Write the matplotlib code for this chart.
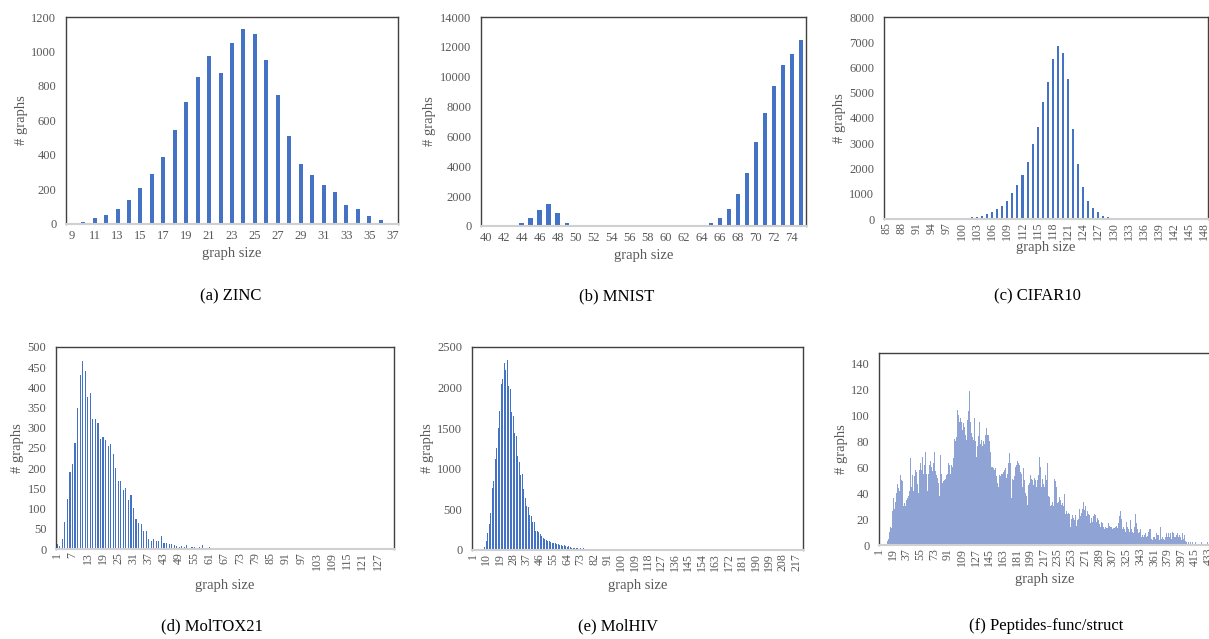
"""Graph-size histograms for six benchmark datasets (2x3 panel figure)."""
import matplotlib
matplotlib.use("Agg")
import matplotlib.pyplot as plt
import numpy as np

W, H = 1209, 639
BLUE = "#4472C4"
GREY = "#595959"

plt.rcParams.update({
    "font.family": ["Liberation Serif", "DejaVu Serif"],
    "font.size": 9,
})

# ---- data -------------------------------------------------------------------
zinc_sizes = list(range(9, 38))
zinc_counts = [1, 12, 33, 52, 85, 137, 209, 290, 391, 546,
               708, 852, 975, 875, 1047, 1130, 1103, 952, 749, 509,
               348, 285, 225, 184, 108, 85, 46, 21, 2]

mnist_sizes = list(range(40, 76))
mnist_counts = [10, 10, 5, 60, 180, 540, 1080, 1460, 875, 225,
                20, 5, 0, 0, 0, 0, 0, 0, 0, 0,
                0, 5, 10, 20, 80, 225, 540, 1170, 2150, 3570,
                5610, 7580, 9380, 10770, 11530, 12450]

cifar_sizes = list(range(85, 151))
cifar_counts = [0, 0, 0, 0, 0, 0, 0, 0, 0, 0, 0, 0, 0, 0, 5,
                40, 40, 60, 70, 130, 210, 260, 380, 500, 700,
                1020, 1340, 1750, 2260, 2980, 3650, 4630, 5430, 6330, 6860,
                6570, 5550, 3580, 2160, 1270, 700, 440, 260, 120, 60,
                40, 30,
                10, 5, 0, 0, 0, 0, 0, 0, 0, 0, 0, 0, 0, 0, 0, 0, 0, 0, 0]

tox_counts = [12, 8, 24, 66, 125, 190, 211, 262, 348, 431,
              465, 440, 376, 385, 322, 323, 312, 272, 278, 270,
              256, 260, 235, 200, 168, 168, 145, 150, 121, 133,
              101, 74, 64, 63, 45, 45, 24, 20, 24, 20,
              19, 31, 15, 15, 13, 13, 10, 8, 5, 8,
              4, 10, 3, 6, 6, 1, 6, 10, 3, 2,
              5, 3, 3, 1, 3, 1, 2, 1, 1, 1,
              0, 1, 3, 0, 0, 0, 0, 0, 0, 1,
              0, 0, 1, 2, 1, 3, 1, 0, 1, 2,
              1] + [0] * 42
tox_sizes = list(range(1, len(tox_counts) + 1))

hiv_counts = [0, 0, 0, 0, 0, 0, 0, 0, 33, 111,
              210, 326, 458, 763, 850, 1126, 1254, 1506, 1712, 2050,
              2108, 2298, 2219, 2339, 2017, 1988, 1695, 1646, 1435, 1398,
              1155, 1089, 920, 930, 750, 640, 545, 530, 430, 420,
              340, 340, 240, 230, 220, 200, 170, 150, 140, 120,
              115, 110, 95, 90, 85, 90, 70, 70, 65, 60,
              55, 60, 45, 40, 45, 35, 30, 28, 25, 22,
              22, 18, 20, 16, 20, 15, 12, 12, 10, 10,
              8, 6, 5, 4, 3, 3, 2, 2, 2, 1,
              1, 1, 1, 1] + [0] * 127
hiv_sizes = list(range(1, len(hiv_counts) + 1))

pep_counts = [
    0, 0, 0, 0, 0, 0, 0, 0, 0, 0,
    1, 3, 5, 10, 12, 14, 13, 26, 30, 36,
    28, 33, 40, 35, 47, 44, 42, 38, 54, 50,
    49, 42, 30, 32, 30, 33, 35, 36, 38, 42,
    42, 67, 45, 54, 48, 42, 53, 58, 45, 56,
    47, 40, 53, 58, 63, 58, 55, 68, 55, 62,
    72, 60, 55, 42, 55, 65, 62, 65, 60, 62,
    57, 63, 72, 62, 57, 54, 52, 56, 48, 38,
    69, 55, 51, 48, 49, 50, 45, 51, 54, 55,
    58, 63, 62, 55, 65, 62, 60, 67, 82, 78,
    80, 83, 104, 134, 100, 95, 98, 92, 95, 89,
    94, 88, 91, 85, 81, 91, 96, 103, 119, 95,
    92, 86, 83, 81, 88, 98, 80, 68, 72, 76,
    84, 95, 73, 78, 81, 76, 73, 80, 78, 85,
    90, 87, 85, 85, 80, 69, 72, 60, 60, 37,
    59, 58, 59, 55, 53, 48, 45, 54, 58, 53,
    55, 55, 89, 56, 58, 59, 47, 52, 55, 63,
    65, 71, 63, 36, 58, 51, 50, 53, 60, 64,
    62, 65, 63, 60, 62, 56, 55, 53, 45, 59,
    50, 46, 40, 38, 31, 37, 46, 48, 54, 51,
    53, 50, 46, 52, 56, 50, 45, 50, 53, 54,
    68, 60, 55, 45, 51, 47, 45, 42, 54, 50,
    63, 40, 38, 37, 30, 40, 31, 33, 30, 40,
    51, 49, 45, 42, 32, 33, 37, 35, 32, 31,
    32, 30, 31, 39, 24, 26, 26, 24, 25, 24,
    22, 14, 20, 23, 22, 21, 19, 23, 15, 21,
    19, 20, 28, 27, 22, 25, 28, 41, 33, 27,
    30, 26, 22, 26, 24, 24, 23, 17, 21, 18,
    17, 22, 24, 23, 20, 18, 21, 19, 18, 16,
    14, 18, 19, 17, 14, 12, 14, 15, 13, 13,
    17, 23, 15, 14, 14, 17, 12, 13, 13, 12,
    14, 15, 13, 15, 17, 22, 26, 20, 15, 12,
    14, 12, 12, 10, 18, 14, 12, 12, 10, 19,
    15, 12, 10, 9, 14, 14, 24, 17, 12, 9,
    9, 10, 12, 10, 6, 8, 6, 8, 8, 9,
    6, 8, 7, 10, 12, 12, 10, 5, 4, 6,
    8, 6, 5, 9, 10, 8, 8, 4, 6, 14,
    5, 6, 3, 5, 4, 6, 9, 8, 6, 9,
    6, 8, 9, 5, 10, 8, 9, 6, 6, 8,
    8, 9, 6, 6, 8, 6, 4, 9, 8, 5,
    8, 3, 2, 2, 1, 2, 2, 1, 2, 1,
    1, 2, 1, 1, 2, 1, 1, 0, 1, 2,
    1, 1, 2, 1, 0, 1, 1, 2, 1, 0, 2, 1, 1,
]
pep_sizes = list(range(1, len(pep_counts) + 1))


# ---- helpers ------------------------------------------------------------------
def panel(fig, box, sizes, counts, width, xlim, ylim, yticks, xtick_step,
          rotate, ylab_x, xlab_y, color=BLUE, last_tick=None):
    left, top, right, bottom = box
    ax = fig.add_axes([left / W, 1 - bottom / H, (right - left) / W, (bottom - top) / H])
    ax.bar(sizes, counts, width=width, color=color, linewidth=0, zorder=2)
    ax.set_xlim(*xlim)
    ax.set_ylim(*ylim)
    ax.set_yticks(yticks)
    ticks = [t for t in sizes[::xtick_step] if last_tick is None or t <= last_tick]
    ax.set_xticks(ticks)
    ax.set_xticklabels([str(t) for t in ticks], rotation=90 if rotate else 0)
    ax.tick_params(length=0, colors=GREY, labelsize=9)
    ax.tick_params(axis="y", pad=7)
    if rotate:
        ax.tick_params(axis="x", pad=2, labelsize=8.6)
    else:
        ax.tick_params(axis="x", pad=4)
    for side in ("left", "top", "right"):
        ax.spines[side].set_color("#404040")
        ax.spines[side].set_linewidth(1.0)
    ax.spines["bottom"].set_color("#D0D0D0")
    ax.spines["bottom"].set_linewidth(1.5)
    ax.set_ylabel("# graphs", fontsize=10.5, color=GREY)
    ax.set_xlabel("graph size", fontsize=10.5, color=GREY)
    ax.yaxis.set_label_coords((ylab_x - left) / (right - left), 0.5)
    ax.yaxis.label.set_va("center")
    ax.xaxis.set_label_coords(0.5, (bottom - xlab_y) / (bottom - top))
    ax.xaxis.label.set_va("center")
    return ax


def caption(fig, x, y, text):
    fig.text(x / W, 1 - y / H, text, ha="center", va="center", fontsize=12, color="black")


fig = plt.figure(figsize=(W / 100, H / 100), dpi=100)

panel(fig, (66, 17, 398, 224), zinc_sizes, zinc_counts, 0.35, (8.5, 37.5), (0, 1200),
      range(0, 1201, 200), 2, False, 21, 254)
panel(fig, (481, 17, 806, 226), mnist_sizes, mnist_counts, 0.45, (39.5, 75.6), (0, 14000),
      range(0, 14001, 2000), 2, False, 430, 255)
panel(fig, (884, 17, 1208, 219), cifar_sizes, cifar_counts, 0.4, (84.6, 148.7), (0, 8000),
      range(0, 8001, 1000), 3, True, 840, 247)
panel(fig, (56, 347, 394, 549), tox_sizes, tox_counts, 0.45, (0.5, len(tox_sizes) + 0.5),
      (0, 500), range(0, 501, 50), 6, True, 17, 585, last_tick=127)
panel(fig, (472, 347, 803, 550), hiv_sizes, hiv_counts, 0.6, (0.5, len(hiv_sizes) + 0.5),
      (0, 2500), range(0, 2501, 500), 9, True, 427, 585)
panel(fig, (879, 353, 1210, 545), pep_sizes, pep_counts, 1.0, (0.5, len(pep_sizes) + 1.5),
      (0, 148), range(0, 141, 20), 18, True, 841, 580, color="#8FA3D5")

caption(fig, 231, 296, "(a) ZINC")
caption(fig, 617, 296, "(b) MNIST")
caption(fig, 1037, 296, "(c) CIFAR10")
caption(fig, 212, 626, "(d) MolTOX21")
caption(fig, 618, 626, "(e) MolHIV")
caption(fig, 1046, 626, "(f) Peptides-func/struct")

fig.savefig("out.png", dpi=100)
print("Wrote out.png")
